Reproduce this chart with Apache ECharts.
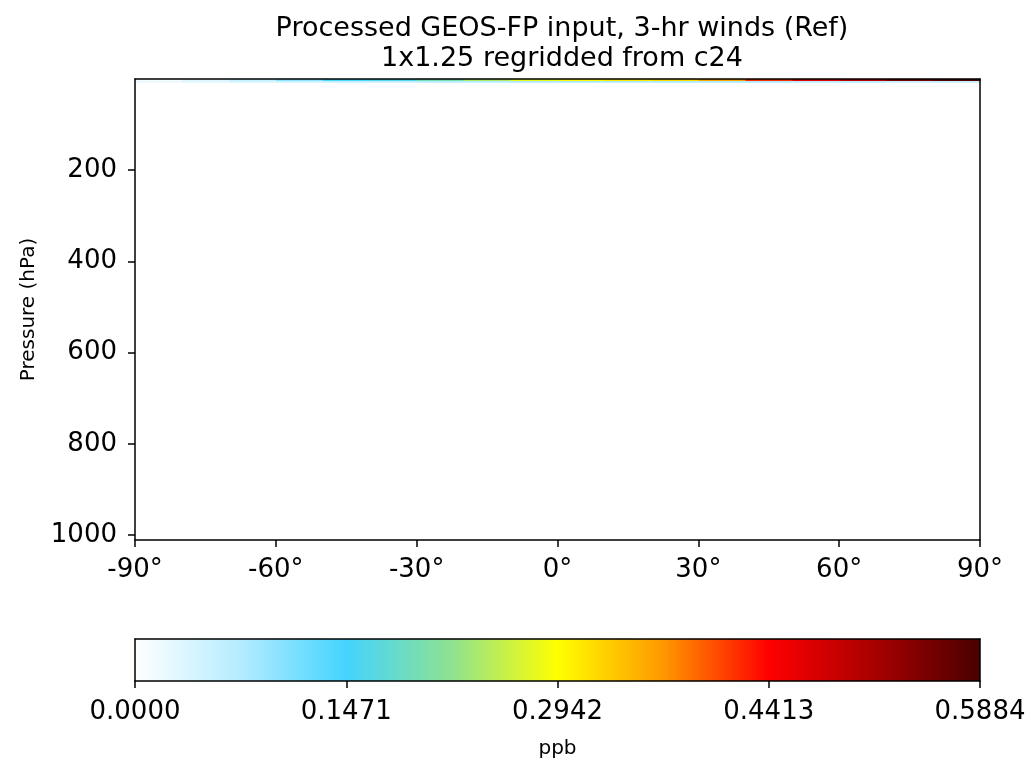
<!DOCTYPE html>
<html>
<head>
<meta charset="utf-8">
<script src="https://cdn.jsdelivr.net/npm/echarts@6/dist/echarts.min.js"></script>
<style>
  html, body { margin: 0; padding: 0; background: #fff; }
  #chart { width: 1031px; height: 761px; }
</style>
</head>
<body>
<div id="chart"></div>
<script>
// latitude bin edges (deg)
const latEdges = [-90, -80, -70, -60, -50, -40, -30, -20, -10, 0, 10, 20, 30, 40, 50, 60, 70, 80, 90]
// pressure level edges (hPa), top of model down to surface
const presEdges = [0, 4.5, 8, 1011]
// zonal mean values (ppb), one row per pressure layer, one column per lat bin
const layerValues = [
  [0.01, 0.03, 0.06, 0.10, 0.14, 0.16, 0.20, 0.24, 0.28, 0.30, 0.31, 0.32, 0.36, 0.42, 0.46, 0.50, 0.55, 0.58],
  [0.02, 0.03, 0.04, 0.05, 0.06, 0.06, 0.07, 0.07, 0.08, 0.08, 0.08, 0.08, 0.08, 0.08, 0.07, 0.07, 0.06, 0.06],
  [0, 0, 0, 0, 0, 0, 0, 0, 0, 0, 0, 0, 0, 0, 0, 0, 0, 0],
]
const xTicks = [-90, -60, -30, 0, 30, 60, 90]
const yTicks = [200, 400, 600, 800, 1000]
const cbarTicks = [0.0, 0.1471, 0.2942, 0.4413, 0.5884]
// WhGrYlRd-like colormap, evenly spaced stops
const cmap = ['#ffffff', '#b4ecff', '#44d4ff', '#8ee290', '#ffff00', '#ff9800', '#ff0000', '#a80000', '#4a0000']

const vmin = cbarTicks[0]
const vmax = cbarTicks[cbarTicks.length - 1]

const cells = []
for (let j = 0; j < layerValues.length; j++) {
  for (let i = 0; i < latEdges.length - 1; i++) {
    cells.push([latEdges[i], latEdges[i + 1], presEdges[j], presEdges[j + 1], layerValues[j][i]])
  }
}

const fontFam = 'DejaVu Sans'
const tickFont = 26
const chart = echarts.init(document.getElementById('chart'))

const axisCommon = {
  axisLine: { show: true, onZero: false, lineStyle: { color: '#000', width: 1.5 } },
  axisTick: { show: true, inside: false, length: 7, lineStyle: { color: '#000', width: 1.5 } },
  splitLine: { show: false },
  z: 10,
}

const option = {
  backgroundColor: '#fff',
  animation: false,
  title: {
    text: 'Processed GEOS-FP input, 3-hr winds (Ref)\n1x1.25 regridded from c24',
    left: 557, top: 9, textAlign: 'center',
    textStyle: { fontFamily: fontFam, fontWeight: 'normal', fontSize: 27, lineHeight: 30, color: '#000' },
  },
  visualMap: {
    show: false, type: 'continuous', min: vmin, max: vmax, dimension: 4, seriesIndex: 0,
    inRange: { color: cmap },
  },
  grid: [
    { left: 135, right: 51, top: 79, height: 461 },
    { left: 135, right: 51, top: 639, height: 42 },
  ],
  xAxis: [
    Object.assign({}, axisCommon, {
      type: 'value', gridIndex: 0, min: -90, max: 90, position: 'bottom',
      axisTick: Object.assign({}, axisCommon.axisTick, { customValues: xTicks }),
      axisLabel: { customValues: xTicks, fontFamily: fontFam, fontSize: tickFont, color: '#000', margin: 17, formatter: v => v + '°' },
    }),
    Object.assign({}, axisCommon, {
      type: 'value', gridIndex: 0, min: -90, max: 90, position: 'top',
      axisTick: { show: false }, axisLabel: { show: false },
    }),
    Object.assign({}, axisCommon, {
      type: 'value', gridIndex: 1, min: vmin, max: vmax, position: 'bottom',
      name: 'ppb', nameLocation: 'middle', nameGap: 58,
      nameTextStyle: { fontFamily: fontFam, fontSize: 20, color: '#000' },
      axisTick: Object.assign({}, axisCommon.axisTick, { customValues: cbarTicks }),
      axisLabel: { customValues: cbarTicks, fontFamily: fontFam, fontSize: tickFont, color: '#000', margin: 18, formatter: v => v.toFixed(4) },
    }),
    Object.assign({}, axisCommon, {
      type: 'value', gridIndex: 1, min: vmin, max: vmax, position: 'top',
      axisTick: { show: false }, axisLabel: { show: false },
    }),
  ],
  yAxis: [
    Object.assign({}, axisCommon, {
      type: 'value', gridIndex: 0, min: 0, max: 1011, inverse: true, position: 'left',
      name: 'Pressure (hPa)', nameLocation: 'middle', nameGap: 96, nameRotate: 90,
      nameTextStyle: { fontFamily: fontFam, fontSize: 20, color: '#000' },
      axisTick: Object.assign({}, axisCommon.axisTick, { customValues: yTicks }),
      axisLabel: { customValues: yTicks, fontFamily: fontFam, fontSize: tickFont, color: '#000', margin: 18, formatter: v => String(v) },
    }),
    Object.assign({}, axisCommon, {
      type: 'value', gridIndex: 0, min: 0, max: 1011, inverse: true, position: 'right',
      axisTick: { show: false }, axisLabel: { show: false },
    }),
    Object.assign({}, axisCommon, {
      type: 'value', gridIndex: 1, min: 0, max: 1, position: 'left',
      axisTick: { show: false }, axisLabel: { show: false },
    }),
    Object.assign({}, axisCommon, {
      type: 'value', gridIndex: 1, min: 0, max: 1, position: 'right',
      axisTick: { show: false }, axisLabel: { show: false },
    }),
  ],
  series: [
    {
      type: 'custom',
      xAxisIndex: 0, yAxisIndex: 0,
      z: 2,
      encode: { x: [0, 1], y: [2, 3] },
      renderItem: function (params, api) {
        const p0 = api.coord([api.value(0), api.value(2)])
        const p1 = api.coord([api.value(1), api.value(3)])
        return {
          type: 'rect',
          shape: { x: p0[0], y: p0[1], width: p1[0] - p0[0] + 0.5, height: p1[1] - p0[1] + 0.3 },
          style: { fill: api.visual('color') },
        }
      },
      data: cells,
    },
    {
      type: 'custom',
      xAxisIndex: 2, yAxisIndex: 2,
      z: 2,
      renderItem: function (params, api) {
        const p0 = api.coord([vmin, 1])
        const p1 = api.coord([vmax, 0])
        return {
          type: 'rect',
          shape: { x: p0[0], y: p0[1], width: p1[0] - p0[0], height: p1[1] - p0[1] },
          style: {
            fill: new echarts.graphic.LinearGradient(0, 0, 1, 0,
              cmap.map((c, k) => ({ offset: k / (cmap.length - 1), color: c }))),
          },
        }
      },
      data: [[vmin, 0]],
    },
  ],
}

chart.setOption(option)
</script>
</body>
</html>
